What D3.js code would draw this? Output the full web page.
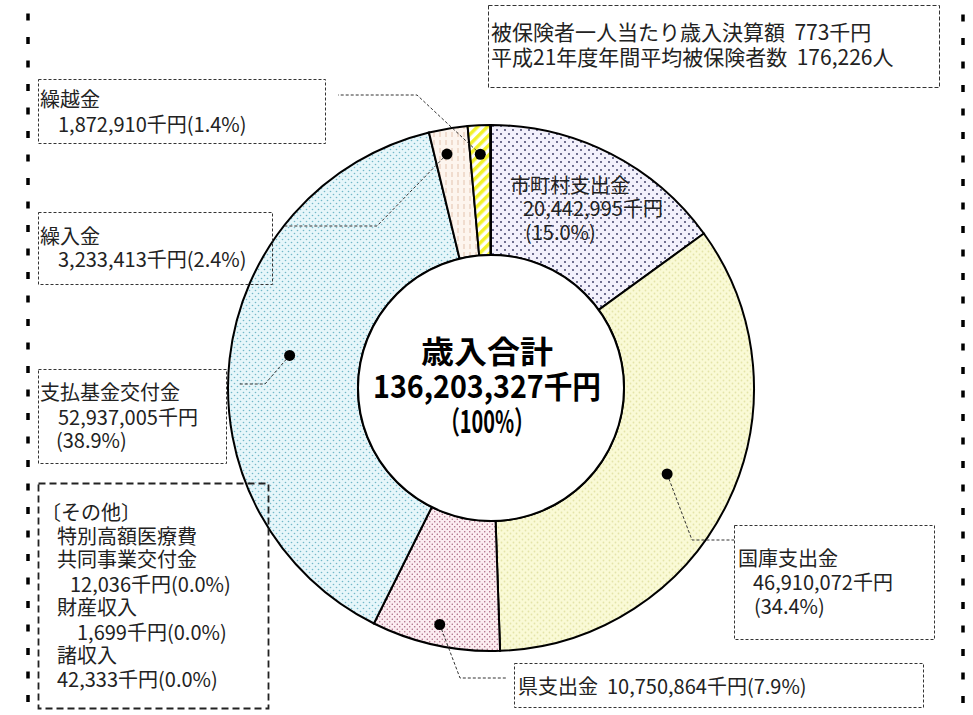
<!DOCTYPE html>
<html>
<head>
<meta charset="utf-8">
<script src="https://cdn.jsdelivr.net/npm/d3@7"></script>
<style>
  body { margin: 0; background: #fff; }
  svg { display: block; }
  text { font-family: "Noto Sans CJK JP", "Noto Sans", sans-serif; fill: #222; white-space: pre; }
</style>
</head>
<body>
<svg id="chart"></svg>
<script>
// chart data
const categories = ['市町村支出金', '国庫支出金', '県支出金', '支払基金交付金', '繰入金', '繰越金', 'その他'];
const values = [20442995, 46910072, 10750864, 52937005, 3233413, 1872910, 56068];
const percentLabels = ['15.0%', '34.4%', '7.9%', '38.9%', '2.4%', '1.4%', '0.0%'];
const otherItems = ['特別高額医療費\n共同事業交付金', '財産収入', '諸収入'];
const otherValues = [12036, 1699, 42333];
const totalLabel = '歳入合計';
const infoLines = ['被保険者一人当たり歳入決算額  773千円', '平成21年度年間平均被保険者数  176,226人'];

const width = 973, height = 715;
const cx = 491, cy = 388;
const outerR = 263, innerR = 133;

const fmt = d3.format(',');
const total = d3.sum(values);

const svg = d3.select('#chart')
    .attr('width', width)
    .attr('height', height);

// fill patterns for each slice
const defs = svg.append('defs');

function dotPattern(id, size, bg, dot, r) {
    const p = defs.append('pattern')
        .attr('id', id)
        .attr('patternUnits', 'userSpaceOnUse')
        .attr('width', size)
        .attr('height', size);
    p.append('rect').attr('width', size).attr('height', size).attr('fill', bg);
    p.append('circle').attr('cx', size / 4).attr('cy', size / 4).attr('r', r).attr('fill', dot);
    p.append('circle').attr('cx', size * 3 / 4).attr('cy', size * 3 / 4).attr('r', r).attr('fill', dot);
}
dotPattern('p-city', 8, '#f3f1fc', '#30305c', 0.9);
dotPattern('p-nat', 6, '#fafad6', '#e4e4a8', 0.9);
dotPattern('p-pref', 5, '#fcedf1', '#a05874', 0.7);
dotPattern('p-fund', 6, '#e6f6fa', '#72b8c8', 0.8);

const trans = defs.append('pattern')
    .attr('id', 'p-trans')
    .attr('patternUnits', 'userSpaceOnUse')
    .attr('width', 6).attr('height', 8);
trans.append('rect').attr('width', 6).attr('height', 8).attr('fill', '#fdf5ee');
trans.append('line').attr('x1', 3).attr('x2', 3).attr('y1', 0).attr('y2', 5)
    .attr('stroke', '#e4c4ae').attr('stroke-width', 1);

const carry = defs.append('pattern')
    .attr('id', 'p-carry')
    .attr('patternUnits', 'userSpaceOnUse')
    .attr('width', 7).attr('height', 7)
    .attr('patternTransform', 'rotate(45)');
carry.append('rect').attr('width', 7).attr('height', 7).attr('fill', '#ffffff');
carry.append('rect').attr('width', 3.5).attr('height', 7).attr('fill', '#f2f22a');

const fills = ['url(#p-city)', 'url(#p-nat)', 'url(#p-pref)', 'url(#p-fund)', 'url(#p-trans)', 'url(#p-carry)', '#ffffff'];

// outer frame (only the sides show)
svg.append('rect')
    .attr('x', 28).attr('y', -10)
    .attr('width', 935).attr('height', height + 20)
    .attr('fill', 'none')
    .attr('stroke', '#000')
    .attr('stroke-width', 3.5)
    .attr('stroke-dasharray', '7 16.5')
    .attr('stroke-dashoffset', 4);

// donut
const pie = d3.pie().sort(null).value(d => d)(values);
const arc = d3.arc().innerRadius(innerR).outerRadius(outerR);

const g = svg.append('g').attr('transform', `translate(${cx},${cy})`);
g.selectAll('path.slice')
    .data(pie)
    .enter()
    .append('path')
    .attr('class', 'slice')
    .attr('d', arc)
    .attr('fill', (d, i) => fills[i])
    .attr('stroke', '#000')
    .attr('stroke-width', 2);

g.append('circle')
    .attr('r', innerR)
    .attr('fill', '#fff')
    .attr('stroke', '#000')
    .attr('stroke-width', 2);

// center total
const centerLines = [
    { t: totalLabel, y: -36, len: 132 },
    { t: fmt(total) + '千円', y: -1, len: 228 },
    { t: '（100%）', y: 34, len: 94 }
];
g.selectAll('text.center')
    .data(centerLines)
    .enter()
    .append('text')
    .attr('class', 'center')
    .attr('x', -4)
    .attr('y', d => d.y)
    .attr('dy', '0.36em')
    .attr('text-anchor', 'middle')
    .attr('textLength', d => d.len)
    .attr('lengthAdjust', 'spacingAndGlyphs')
    .style('font-size', '31px')
    .style('font-weight', 'bold')
    .style('fill', '#000')
    .text(d => d.t);

// label layout: box, text lines, leader line (dot radius, position in slice, elbow points)
const labelLayout = [
    { i: 0, box: null,
      lines: [[510, 186, 'name'], [523, 209, 'value'], [525, 233, 'pct']] },
    { i: 1, box: [734, 525, 200, 114],
      lines: [[738, 559, 'name'], [753, 583, 'value'], [754, 607, 'pct']],
      dot: [196, 0.5], leader: [[692, 540], [734, 540]] },
    { i: 2, box: [514, 663, 409, 44],
      lines: [[518, 687, 'inline']],
      dot: [242, 0.5], leader: [[460, 678], [506, 678]] },
    { i: 3, box: [38, 369, 188, 94],
      lines: [[40, 393, 'name'], [58, 418, 'value'], [56, 441, 'pct']],
      dot: [204, 0.52], leader: [[265, 384], [238, 384]] },
    { i: 4, box: [38, 212, 234, 72],
      lines: [[40, 237, 'name'], [58, 260, 'valuepct']],
      dot: [238, 0.35], leader: [[377, 226], [285, 226]] },
    { i: 5, box: [38, 79, 287, 64],
      lines: [[40, 100, 'name'], [58, 125, 'valuepct']],
      dot: [234, 0.5], leader: [[417, 95], [338, 95]] }
];

function lineText(i, kind) {
    const name = categories[i], v = fmt(values[i]) + '千円', p = '(' + percentLabels[i] + ')';
    if (kind === 'name') return name;
    if (kind === 'value') return v;
    if (kind === 'pct') return p;
    if (kind === 'valuepct') return v + p;
    return name + '  ' + v + p;
}

const labels = svg.append('g').attr('class', 'labels');

labelLayout.forEach(L => {
    if (L.box) {
        labels.append('rect')
            .attr('x', L.box[0] + 0.5).attr('y', L.box[1] + 0.5)
            .attr('width', L.box[2]).attr('height', L.box[3])
            .attr('fill', 'none')
            .attr('stroke', '#333')
            .attr('stroke-width', 1)
            .attr('stroke-dasharray', '3 2');
    }
    L.lines.forEach(([x, y, kind]) => {
        labels.append('text')
            .attr('x', x).attr('y', y)
            .attr('dy', '0.36em')
            .style('font-size', '20px')
            .text(lineText(L.i, kind));
    });
    if (L.dot) {
        const d = pie[L.i];
        const a = d.startAngle + (d.endAngle - d.startAngle) * L.dot[1];
        const px = cx + L.dot[0] * Math.sin(a);
        const py = cy - L.dot[0] * Math.cos(a);
        const pts = [[px, py]].concat(L.leader);
        labels.append('path')
            .attr('d', d3.line()(pts))
            .attr('fill', 'none')
            .attr('stroke', '#333')
            .attr('stroke-width', 1)
            .attr('stroke-dasharray', '3 2');
        labels.append('circle')
            .attr('cx', px).attr('cy', py)
            .attr('r', 5.5)
            .attr('fill', '#000');
    }
});

// "other" box
labels.append('rect')
    .attr('x', 38.5).attr('y', 483.5)
    .attr('width', 230).attr('height', 225)
    .attr('fill', 'none')
    .attr('stroke', '#222')
    .attr('stroke-width', 1.8)
    .attr('stroke-dasharray', '7 4');

const otherText = [
    [41, 513, '〔' + categories[6] + '〕'],
    [57, 537, otherItems[0].split('\n')[0]],
    [57, 560, otherItems[0].split('\n')[1]],
    [70, 585, fmt(otherValues[0]) + '千円(' + percentLabels[6] + ')'],
    [57, 608, otherItems[1]],
    [77, 633, fmt(otherValues[1]) + '千円(' + percentLabels[6] + ')'],
    [57, 656, otherItems[2]],
    [57, 680, fmt(otherValues[2]) + '千円(' + percentLabels[6] + ')']
];
labels.selectAll('text.other')
    .data(otherText)
    .enter()
    .append('text')
    .attr('class', 'other')
    .attr('x', d => d[0])
    .attr('y', d => d[1])
    .attr('dy', '0.36em')
    .style('font-size', '20px')
    .text(d => d[2]);

// info box top right
labels.append('rect')
    .attr('x', 488.5).attr('y', 5.5)
    .attr('width', 451).attr('height', 82)
    .attr('fill', 'none')
    .attr('stroke', '#333')
    .attr('stroke-width', 1)
    .attr('stroke-dasharray', '4 2');
labels.selectAll('text.info')
    .data(infoLines)
    .enter()
    .append('text')
    .attr('class', 'info')
    .attr('x', 491)
    .attr('y', (d, i) => 32 + i * 25)
    .attr('dy', '0.36em')
    .style('font-size', '21px')
    .text(d => d);
</script>
</body>
</html>
